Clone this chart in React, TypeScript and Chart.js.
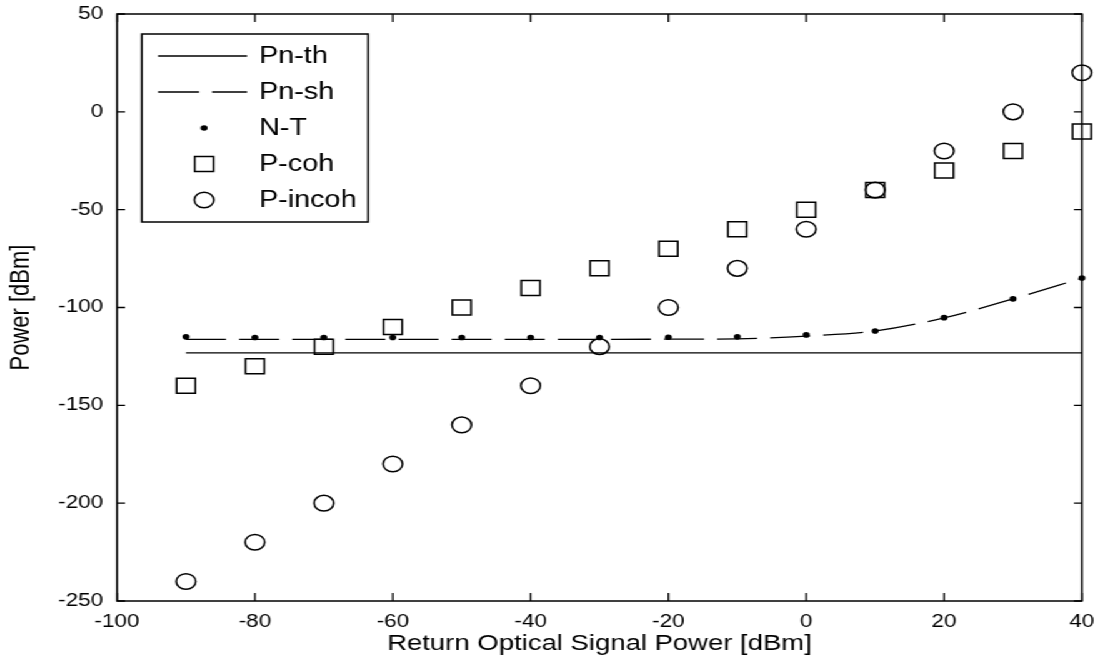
import React, { useEffect, useRef } from "react";
import { Chart, registerables } from "chart.js";

Chart.register(...registerables);

// ---- data ----
const xValues = [-90, -80, -70, -60, -50, -40, -30, -20, -10, 0, 10, 20, 30, 40];
const pnThX = [-90, 40];
const pnThY = [-123.2, -123.2];
const pnSh = [-116.3, -116.3, -116.3, -116.3, -116.3, -116.3, -116.3, -116.2, -116, -114.6, -112, -105.3, -95.6, -85];
const nT = [-115, -115.3, -115.3, -115.3, -115.3, -115.3, -115.3, -115.2, -115, -114, -112, -105.2, -95.6, -84.9];
const pCoh = [-140, -130, -120, -110, -100, -90, -80, -70, -60, -50, -40, -30, -20, -10];
const pIncoh = [-240, -220, -200, -180, -160, -140, -120, -100, -80, -60, -40, -20, 0, 20];
const legendLabels = ["Pn-th", "Pn-sh", "N-T", "P-coh", "P-incoh"];
const xAxisTitle = "Return Optical Signal Power [dBm]";
const yAxisTitle = "Power [dBm]";
const xMin = -100;
const xMax = 40;
const xStep = 20;
const yMin = -250;
const yMax = 50;
const yStep = 50;

const FONT = "'Liberation Sans', Arial, Helvetica, sans-serif";
const STRETCH = 1.25;
const W = 880;
const H = 666;

const pts = (xs: number[], ys: number[]) => xs.map((x, i) => ({ x, y: ys[i] }));

const frameAndTicks = {
  id: "frameAndTicks",
  afterDatasetsDraw(chart: any) {
    const { ctx, chartArea: a, scales } = chart;
    const xs = scales.x;
    const ys = scales.y;
    ctx.save();
    ctx.strokeStyle = "#000";
    ctx.lineWidth = 1.5;
    ctx.strokeRect(a.left, a.top, a.right - a.left, a.bottom - a.top);
    const tx = 8;
    const ty = 6.4;
    ctx.lineWidth = 1.3;
    ctx.beginPath();
    xs.ticks.forEach((t: any) => {
      const p = xs.getPixelForValue(t.value);
      ctx.moveTo(p, a.bottom);
      ctx.lineTo(p, a.bottom - tx);
      ctx.moveTo(p, a.top);
      ctx.lineTo(p, a.top + tx);
    });
    ys.ticks.forEach((t: any) => {
      const p = ys.getPixelForValue(t.value);
      ctx.moveTo(a.left, p);
      ctx.lineTo(a.left + ty, p);
      ctx.moveTo(a.right, p);
      ctx.lineTo(a.right - ty, p);
    });
    ctx.stroke();
    ctx.restore();
  },
};

const boxLegend = {
  id: "boxLegend",
  afterDraw(chart: any) {
    const { ctx } = chart;
    const bx = 113.4;
    const by = 34;
    const bw = 294.4 - 113.4;
    const bh = 222 - 34;
    ctx.save();
    ctx.fillStyle = "#fff";
    ctx.fillRect(bx, by, bw, bh);
    ctx.strokeStyle = "#000";
    ctx.lineWidth = 1.5;
    ctx.strokeRect(bx, by, bw, bh);
    const rowY = [56, 92, 128, 164, 200];
    const lx0 = 126.4;
    const lx1 = 197.6;
    const mx = 163.2;
    const textX = 207.2;
    legendLabels.forEach((label, i) => {
      const y = rowY[i];
      ctx.strokeStyle = "#000";
      ctx.fillStyle = "#000";
      if (i === 0 || i === 1) {
        ctx.lineWidth = 1.3;
        ctx.setLineDash(i === 1 ? [32.8, 10.4] : []);
        ctx.beginPath();
        ctx.moveTo(lx0, y);
        ctx.lineTo(lx1, y);
        ctx.stroke();
        ctx.setLineDash([]);
      } else if (i === 2) {
        ctx.beginPath();
        ctx.arc(mx, y, 2.8, 0, Math.PI * 2);
        ctx.fill();
      } else if (i === 3) {
        ctx.lineWidth = 1.5;
        ctx.strokeRect(mx - 7.5, y - 7.5, 15, 15);
      } else {
        ctx.lineWidth = 1.5;
        ctx.beginPath();
        ctx.arc(mx, y, 7.8, 0, Math.PI * 2);
        ctx.stroke();
      }
      ctx.font = `23px ${FONT}`;
      ctx.textAlign = "left";
      ctx.textBaseline = "middle";
      ctx.fillText(label, textX, y + 1);
    });
    ctx.restore();
  },
};

export default function App() {
  const ref = useRef<HTMLCanvasElement | null>(null);

  useEffect(() => {
    if (!ref.current) return;
    const chart = new Chart(ref.current, {
      type: "line",
      data: {
        datasets: [
          {
            label: legendLabels[0],
            data: pts(pnThX, pnThY),
            borderColor: "#000",
            borderWidth: 1.3,
            pointRadius: 0,
            fill: false,
          },
          {
            label: legendLabels[1],
            data: pts(xValues, pnSh),
            borderColor: "#000",
            borderWidth: 1.3,
            borderDash: [32, 10.5],
            cubicInterpolationMode: "monotone",
            pointRadius: 0,
            fill: false,
          },
          {
            label: legendLabels[2],
            data: pts(xValues, nT),
            showLine: false,
            pointStyle: "circle",
            pointRadius: 2.8,
            pointBackgroundColor: "#000",
            pointBorderColor: "#000",
            pointBorderWidth: 0,
          },
          {
            label: legendLabels[3],
            data: pts(xValues, pCoh),
            showLine: false,
            pointStyle: "rect",
            pointRadius: 10.6,
            pointBackgroundColor: "rgba(0,0,0,0)",
            pointBorderColor: "#000",
            pointBorderWidth: 1.5,
          },
          {
            label: legendLabels[4],
            data: pts(xValues, pIncoh),
            showLine: false,
            pointStyle: "circle",
            pointRadius: 7.8,
            pointBackgroundColor: "rgba(0,0,0,0)",
            pointBorderColor: "#000",
            pointBorderWidth: 1.5,
          },
        ] as any,
      },
      options: {
        animation: false,
        responsive: false,
        events: [],
        clip: false as any,
        layout: { padding: { top: 14, right: W - 865.6, bottom: 0, left: 0 } },
        plugins: {
          legend: { display: false },
          tooltip: { enabled: false },
        },
        scales: {
          x: {
            type: "linear",
            min: xMin,
            max: xMax,
            grid: { display: false, drawTicks: false },
            border: { display: false },
            ticks: {
              stepSize: xStep,
              color: "#000",
              padding: 10,
              font: { family: FONT, size: 18 },
              maxRotation: 0,
            },
            title: {
              display: true,
              text: xAxisTitle,
              color: "#000",
              font: { family: FONT, size: 22 },
              padding: { top: 0, bottom: 9 },
            },
            afterFit: (s: any) => {
              s.height = H - 601;
              s.paddingLeft = 0;
              s.paddingRight = 0;
            },
          },
          y: {
            type: "linear",
            min: yMin,
            max: yMax,
            grid: { display: false, drawTicks: false },
            border: { display: false },
            ticks: {
              stepSize: yStep,
              color: "#000",
              padding: 11,
              font: { family: FONT, size: 18 },
            },
            title: {
              display: true,
              text: yAxisTitle,
              color: "#000",
              font: { family: FONT, size: 22 },
              padding: { top: 4, bottom: 0 },
            },
            afterFit: (s: any) => {
              s.width = 93.6;
              s.paddingTop = 0;
              s.paddingBottom = 0;
            },
          },
        },
      } as any,
      plugins: [frameAndTicks, boxLegend],
    });
    return () => chart.destroy();
  }, []);

  return (
    <div
      style={{
        position: "fixed",
        left: 0,
        top: 0,
        width: W,
        height: H,
        transform: `scaleX(${STRETCH})`,
        transformOrigin: "0 0",
        background: "#fff",
      }}
    >
      <canvas ref={ref} width={W} height={H} style={{ display: "block", width: W, height: H }} />
    </div>
  );
}
